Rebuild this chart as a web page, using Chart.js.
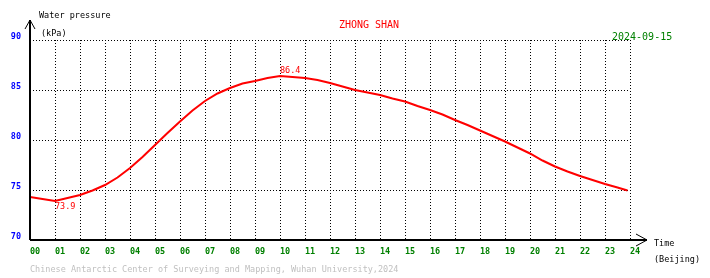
<!DOCTYPE html>
<html>
<head>
<meta charset="utf-8">
<script src="https://cdn.jsdelivr.net/npm/chart.js@4"></script>
<style>
    html, body { margin: 0; padding: 0; background: #fff; }
    #wrap { width: 710px; height: 278px; position: relative; }
</style>
</head>
<body>
<div id="wrap"><canvas id="chart" width="710" height="278"></canvas></div>
<script>
// hours (Beijing time) and water pressure readings in kPa
const hours = [0, 0.5, 1, 1.5, 2, 2.5, 3, 3.5, 4, 4.5, 5, 5.5, 6, 6.5, 7, 7.5, 8, 8.5, 9, 9.5,
    10, 10.5, 11, 11.5, 12, 12.5, 13, 13.5, 14, 14.5, 15, 15.5, 16, 16.5, 17, 17.5, 18, 18.5,
    19, 19.5, 20, 20.5, 21, 21.5, 22, 22.5, 23, 23.5, 23.9];
const pressure = [74.3, 74.1, 73.9, 74.2, 74.5, 74.95, 75.5, 76.25, 77.2, 78.3, 79.5, 80.7,
    81.85, 82.95, 83.9, 84.65, 85.2, 85.65, 85.9, 86.2, 86.4, 86.3, 86.2, 86.0, 85.7, 85.35,
    85.0, 84.75, 84.5, 84.15, 83.85, 83.4, 83.0, 82.55, 82.0, 81.5, 80.95, 80.4, 79.85, 79.25,
    78.65, 77.95, 77.35, 76.85, 76.4, 76.0, 75.6, 75.25, 74.95];
const xTicks = ['00','01','02','03','04','05','06','07','08','09','10','11','12',
    '13','14','15','16','17','18','19','20','21','22','23','24'];
const yTicks = [70, 75, 80, 85, 90];

const station = 'ZHONG SHAN';
const day = '2024-09-15';
const footer = 'Chinese Antarctic Center of Surveying and Mapping, Wuhan University,2024';

const FONT = '"DejaVu Sans Mono", monospace';

// draws axes with arrows, tick labels and all the captions
const decorations = {
    id: 'decorations',
    afterDraw(chart) {
        const ctx = chart.ctx;
        const xs = chart.scales.x, ys = chart.scales.y;
        const x0 = xs.getPixelForValue(0), yb = ys.getPixelForValue(70);
        const yt = ys.getPixelForValue(90);
        ctx.save();

        // axis lines
        ctx.strokeStyle = '#000';
        ctx.lineWidth = 2;
        ctx.beginPath();
        ctx.moveTo(x0, yb);
        ctx.lineTo(x0, yt - 20);
        ctx.moveTo(x0, yb);
        ctx.lineTo(xs.getPixelForValue(24) + 17, yb);
        ctx.stroke();
        ctx.lineWidth = 1;
        ctx.beginPath();
        // arrow heads
        ctx.moveTo(x0 - 5, yt - 11); ctx.lineTo(x0, yt - 20); ctx.lineTo(x0 + 5, yt - 11);
        const xe = xs.getPixelForValue(24) + 17;
        ctx.moveTo(xe - 11, yb - 6); ctx.lineTo(xe, yb); ctx.lineTo(xe - 11, yb + 6);
        ctx.stroke();

        ctx.textBaseline = 'middle';

        // y tick labels
        ctx.fillStyle = '#0000ff';
        ctx.font = 'bold 8.5px ' + FONT;
        ctx.textAlign = 'right';
        yTicks.forEach(v => ctx.fillText(String(v), 21, ys.getPixelForValue(v) - 3));

        // x tick labels
        ctx.fillStyle = '#008000';
        ctx.textAlign = 'center';
        xTicks.forEach((t, i) => ctx.fillText(t, xs.getPixelForValue(i) + 5, yb + 12));

        // captions
        ctx.fillStyle = '#000';
        ctx.font = '8.5px ' + FONT;
        ctx.textAlign = 'left';
        ctx.fillText('Water pressure', 39, 16);
        ctx.fillText('(kPa)', 41, 34);
        ctx.fillText('Time', 654, 244);
        ctx.fillText('(Beijing)', 654, 260);

        ctx.fillStyle = '#c0c0c0';
        ctx.fillText(footer, 30, 270);

        ctx.font = '10px ' + FONT;
        ctx.fillStyle = '#ff0000';
        ctx.textAlign = 'center';
        ctx.fillText(station, 369, 25);
        ctx.fillStyle = '#008000';
        ctx.textAlign = 'left';
        ctx.fillText(day, 612, 37);

        // min / max labels
        const maxV = Math.max(...pressure), minV = Math.min(...pressure);
        const iMax = pressure.indexOf(maxV), iMin = pressure.indexOf(minV);
        ctx.fillStyle = '#ff0000';
        ctx.font = '8.5px ' + FONT;
        ctx.fillText(maxV.toFixed(1), xs.getPixelForValue(hours[iMax]), ys.getPixelForValue(maxV) - 5);
        ctx.fillText(minV.toFixed(1), xs.getPixelForValue(hours[iMin]), ys.getPixelForValue(minV) + 6);

        ctx.restore();
    }
};

const white = {
    id: 'white',
    beforeDraw(chart) {
        const ctx = chart.ctx;
        ctx.save();
        ctx.fillStyle = '#fff';
        ctx.fillRect(0, 0, chart.width, chart.height);
        ctx.restore();
    }
};

new Chart(document.getElementById('chart'), {
    type: 'line',
    data: {
        datasets: [{
            data: hours.map((h, i) => ({ x: h, y: pressure[i] })),
            borderColor: '#ff0000',
            borderWidth: 2,
            pointRadius: 0,
            tension: 0,
            fill: false
        }]
    },
    options: {
        responsive: false,
        animation: false,
        events: [],
        layout: { padding: { left: 30, right: 80, top: 40, bottom: 38 } },
        plugins: { legend: { display: false }, tooltip: { enabled: false } },
        scales: {
            x: {
                type: 'linear', min: 0, max: 24,
                ticks: { display: false, stepSize: 1 },
                grid: { color: '#000', lineWidth: 1, drawTicks: false },
                border: { display: false, dash: [1, 2] }
            },
            y: {
                type: 'linear', min: 70, max: 90,
                ticks: { display: false, stepSize: 5 },
                grid: { color: '#000', lineWidth: 1, drawTicks: false },
                border: { display: false, dash: [1, 2] }
            }
        }
    },
    plugins: [white, decorations]
});
</script>
</body>
</html>
